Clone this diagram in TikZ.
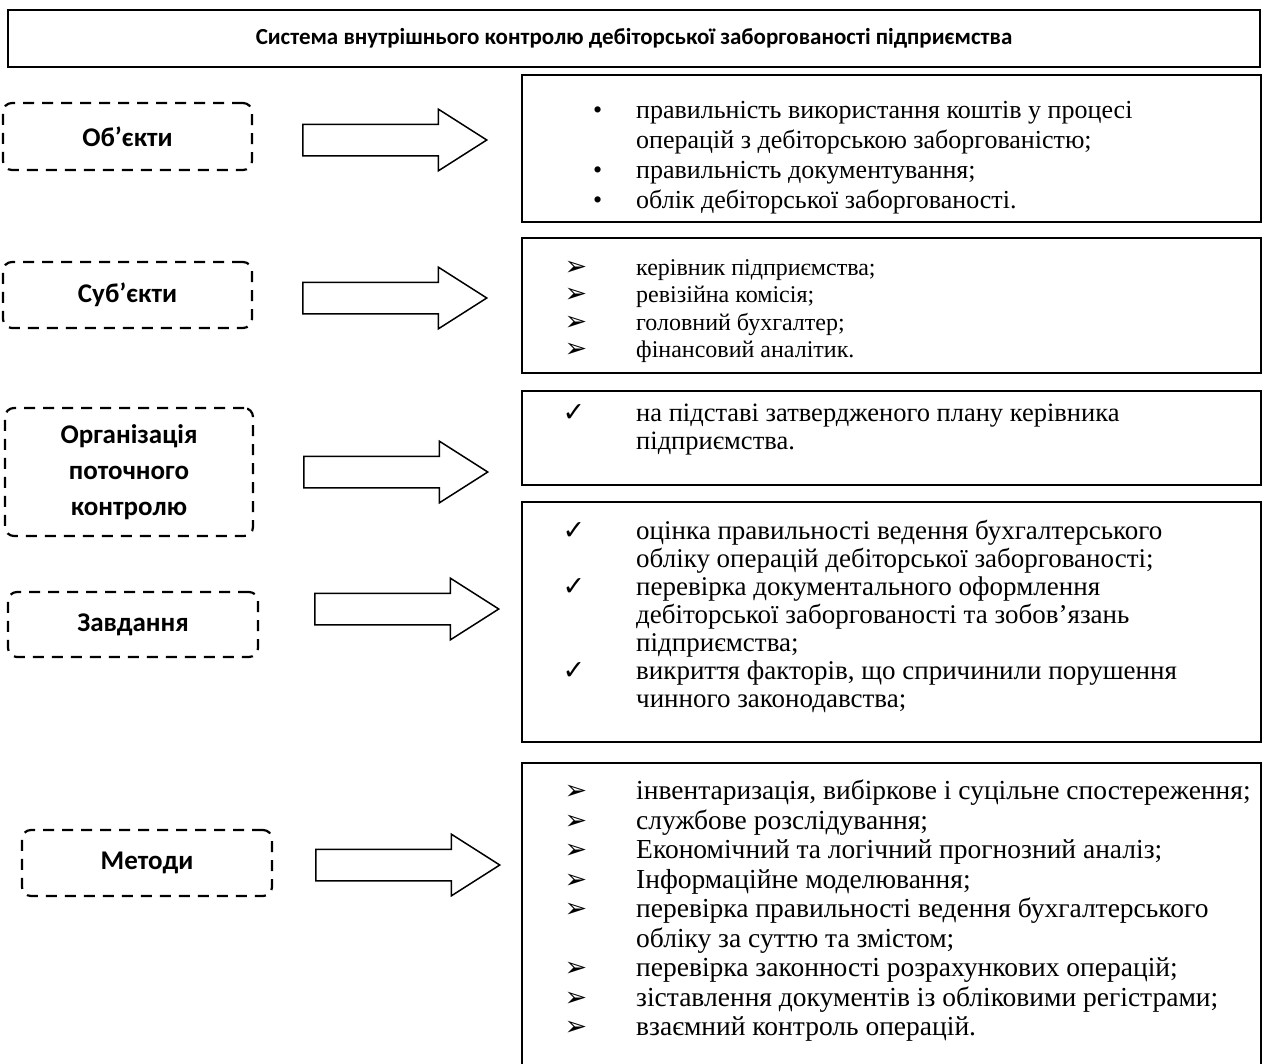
\documentclass[tikz,border=0pt]{standalone}
\usepackage{fontspec}
\setmainfont{Liberation Serif}
\newfontfamily\headfont{Carlito}
\newfontfamily\symfont{DejaVu Sans}
\usetikzlibrary{arrows.meta,shapes.arrows}

\newcommand{\dotitem}{\llap{\textbullet\hspace{34pt}}}
\newcommand{\arritem}{\llap{{\symfont\fontsize{27}{27}\selectfont ➢}\hspace{49pt}}}
\newcommand{\chkitem}{\llap{{\symfont\fontsize{27}{27}\selectfont ✓}\hspace{51pt}}}

\tikzset{
    frame/.style={draw, line width=1.6pt, inner sep=0pt, minimum width=739pt},
    dashbox/.style={draw, line width=2.2pt, dash pattern=on 11pt off 8pt, rounded corners=9pt,
        inner sep=0pt, align=center, font=\headfont\bfseries\fontsize{27}{36}\selectfont},
    blockarrow/.style={draw, line width=1.5pt, single arrow, single arrow tip angle=65,
        single arrow head extend=15pt, minimum height=184pt, inner xsep=0pt, inner ysep=15pt,
        text height=0pt, text depth=0pt, anchor=tail},
    listtext/.style={anchor=west, inner sep=0pt, align=left, font=\fontsize{27}{28}\selectfont},
}

\begin{document}
\begin{tikzpicture}[x=1pt, y=-1pt]
    \useasboundingbox (0,0) rectangle (1268,1063);
    \node[frame, minimum width=1252pt, minimum height=57pt, font=\headfont\bfseries\fontsize{23}{26}\selectfont]
        at(634,38.5)(title){Система внутрішнього контролю дебіторської заборгованості підприємства};
    % 
    \node[dashbox, minimum width=249pt, minimum height=67pt] at(127.5,136.5)(obj){Об’єкти};
    \node[blockarrow] at(302,140)(a1){};
    \node[frame, minimum height=147pt] at(891.5,148.5)(objR){};
    \node[listtext, font=\fontsize{26}{30}\selectfont] at(636,158)(objT){\dotitem правильність використання коштів у процесі\\
        операцій з дебіторською заборгованістю;\\
        \dotitem правильність документування;\\
        \dotitem облік дебіторської заборгованості.};
    % 
    \node[dashbox, minimum width=249pt, minimum height=66pt] at(127.5,295)(subj){Суб’єкти};
    \node[blockarrow] at(302,298)(a2){};
    \node[frame, minimum height=135pt] at(891.5,305.5)(subjR){};
    \node[listtext, font=\fontsize{24}{27.5}\selectfont] at(636,311)(subjT){\arritem керівник підприємства;\\
        \arritem ревізійна комісія;\\
        \arritem головний бухгалтер;\\
        \arritem фінансовий аналітик.};
    % 
    \node[dashbox, minimum width=248pt, minimum height=128pt] at(129,472)(org){Організація\\ поточного\\ контролю};
    \node[blockarrow] at(303,472)(a3){};
    \node[frame, minimum height=94pt] at(891.5,438)(orgR){};
    \node[listtext, font=\fontsize{26.5}{28}\selectfont] at(636,430)(orgT){\chkitem на підставі затвердженого плану керівника\\
        підприємства.};
    % 
    \node[dashbox, minimum width=250pt, minimum height=65pt] at(133,624.5)(task){Завдання};
    \node[blockarrow] at(314,609)(a4){};
    \node[frame, minimum height=240pt] at(891.5,622)(taskR){};
    \node[listtext] at(636,616)(taskT){\chkitem оцінка правильності ведення бухгалтерського\\
        обліку операцій дебіторської заборгованості;\\
        \chkitem перевірка документального оформлення\\
        дебіторської заборгованості та зобов’язань\\
        підприємства;\\
        \chkitem викриття факторів, що спричинили порушення\\
        чинного законодавства;};
    % 
    \node[dashbox, minimum width=250pt, minimum height=66pt] at(147,863)(meth){Методи};
    \node[blockarrow] at(315,865)(a5){};
    \node[frame, minimum height=306pt] at(891.5,916)(methR){};
    \node[listtext, font=\fontsize{27.5}{29.5}\selectfont] at(636,911)(methT){\arritem інвентаризація, вибіркове і суцільне спостереження;\\
        \arritem службове розслідування;\\
        \arritem Економічний та логічний прогнозний аналіз;\\
        \arritem Інформаційне моделювання;\\
        \arritem перевірка правильності ведення бухгалтерського\\
        обліку за суттю та змістом;\\
        \arritem перевірка законності розрахункових операцій;\\
        \arritem зіставлення документів із обліковими регістрами;\\
        \arritem взаємний контроль операцій.};
\end{tikzpicture}
\end{document}
